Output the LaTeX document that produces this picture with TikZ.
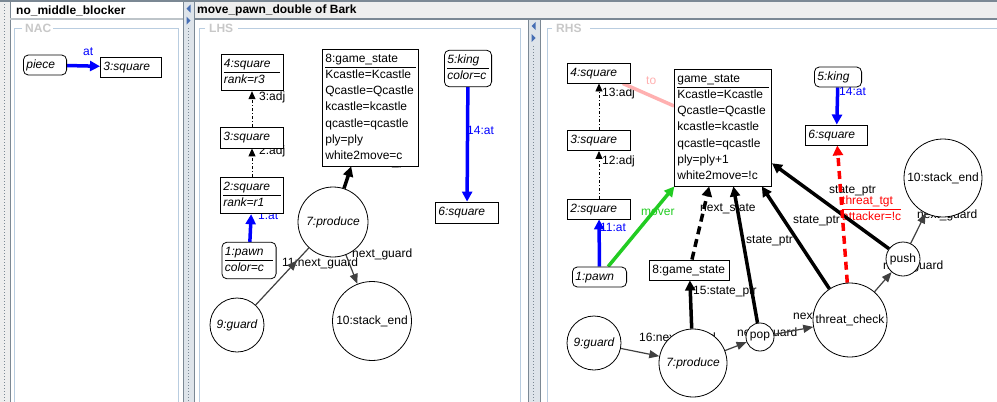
\documentclass[tikz,border=0pt]{standalone}
\usepackage{fontspec}
\setmainfont{Liberation Sans}
\usetikzlibrary{arrows.meta,decorations.markings}
\pgfdeclarelayer{chrome}
\pgfdeclarelayer{edges}
\pgfsetlayers{chrome,edges,main}
\definecolor{slate}{RGB}{123,136,148}
\definecolor{barbg}{RGB}{238,238,238}
\definecolor{frameblue}{RGB}{185,205,224}
\definecolor{framelbl}{RGB}{200,200,200}
\definecolor{splitbg}{RGB}{222,228,234}
\definecolor{splitarrow}{RGB}{70,110,180}
\definecolor{mvgreen}{RGB}{34,204,34}
\definecolor{topink}{RGB}{255,176,176}
\newcommand{\objrows}[2]{\begin{tabular}{@{}p{#1}@{}}#2\end{tabular}}
\renewcommand{\arraystretch}{1.15}
\begin{document}
\begin{tikzpicture}[x=1pt,y=-1pt,
  every node/.style={font=\fontsize{12}{14}\selectfont},
  objbox/.style={draw,fill=white,line width=0.8pt,inner xsep=3pt,inner ysep=2pt,minimum height=20pt},
  objround/.style={objbox,rounded corners=5pt},
  objcirc/.style={circle,draw,fill=white,line width=0.8pt,inner sep=0pt},
  itcirc/.style={objcirc,font=\fontsize{12}{14}\selectfont\itshape},
  lbl/.style={anchor=west,inner sep=0pt,text height=9pt,text depth=3pt},
  paneltitle/.style={anchor=west,inner sep=0pt,font=\fontsize{12}{14}\selectfont\bfseries},
  framelabel/.style={anchor=west,inner sep=0pt,text=framelbl,font=\fontsize{12}{14}\selectfont\bfseries},
  thinedge/.style={draw=black!75,line width=1.2pt,-{Triangle[length=10pt,width=8pt]}},
  stateedge/.style={draw=black,line width=3.5pt,-{Triangle[length=10pt,width=10pt]}},
  atedge/.style={draw=blue,line width=3.5pt,-{Triangle[length=10pt,width=10pt]}},
  adjedge/.style={draw=black,line width=0.9pt,dash pattern=on 3pt off 2pt on 1pt off 2pt,-{Triangle[length=8pt,width=7pt]}},
  ]
\useasboundingbox (0,0) rectangle (997,402);
\begin{pgfonlayer}{chrome}
\fill[white] (0,0) rectangle (997,402);
\fill[barbg] (195,2) rectangle (997,18);
\fill[slate] (0,0) rectangle (997,2);
\fill[slate] (195,18) rectangle (997,20);
\fill[barbg] (0,2) rectangle (10,402);
\draw[slate,dotted,line width=1pt] (4,4) -- (4,402);
\draw[slate] (10,2) -- (10,402);
\fill[slate!50] (10,18) rectangle (183,20);
\fill[splitbg] (183,2) rectangle (194,402);
\draw[slate] (183,2) -- (183,402);
\draw[slate] (194.5,2) -- (194.5,402);
\draw[slate,dotted,line width=1pt] (188.5,28) -- (188.5,402);
\fill[splitarrow] (190.5,4.5) -- (186.5,8.5) -- (190.5,12.5) -- cycle;
\fill[splitarrow] (186.5,16.5) -- (190.5,20.5) -- (186.5,24.5) -- cycle;
\fill[splitbg] (528,20) rectangle (540,402);
\draw[slate] (528,20) -- (528,402);
\draw[slate] (540,20) -- (540,402);
\draw[slate,dotted,line width=1pt] (533.5,46) -- (533.5,402);
\fill[splitarrow] (535.5,22) -- (531.5,26) -- (535.5,30) -- cycle;
\fill[splitarrow] (531.5,34) -- (535.5,38) -- (531.5,42) -- cycle;
\draw[frameblue] (22,28) -| (14,402);
\draw[frameblue] (53,28) -| (178,402);
\draw[frameblue] (205,28) -| (199,402);
\draw[frameblue] (238,28) -| (520,402);
\draw[frameblue] (552,28) -| (547,402);
\draw[frameblue] (590,28) -- (997,28);
\end{pgfonlayer}
\node[paneltitle] (ttlnac) at (16,10.5) {no\_middle\_blocker};
\node[paneltitle] (ttlrule) at (197,10.5) {move\_pawn\_double of Bark};
\node[framelabel] (fnac) at (25,28) {NAC};
\node[framelabel] (flhs) at (209,28) {LHS};
\node[framelabel] (frhs) at (556,28) {RHS};
\node[objround] (piece) at (45,65) {\objrows{37.2pt}{\textit{piece}}};
\node[objbox] (nsq3) at (131,67) {\objrows{55.2pt}{\textit{3:square}}};
\node[objbox] (sq4) at (252,72.5) {\objrows{56.2pt}{\textit{4:square}\\\hline\textit{rank=r3}}};
\node[objbox,minimum height=21pt] (sq3) at (252,137.5) {\objrows{57.2pt}{\textit{3:square}}};
\node[objbox] (sq2) at (252,195.5) {\objrows{57.2pt}{\textit{2:square}\\\hline\textit{rank=r1}}};
\node[objround] (pawn1) at (249,260.5) {\objrows{48.2pt}{\textit{1:pawn}\\\hline\textit{color=c}}};
\node[objbox] (gs8) at (370.5,107.5) {\objrows{90.2pt}{8:game\_state\\\hline Kcastle=Kcastle\\Qcastle=Qcastle\\kcastle=kcastle\\qcastle=qcastle\\ply=ply\\white2move=c}};
\node[objround] (king5) at (468,68.5) {\objrows{41.2pt}{\textit{5:king}\\\hline\textit{color=c}}};
\node[objbox,minimum height=21pt] (sq6) at (467,212.5) {\objrows{57.2pt}{\textit{6:square}}};
\node[itcirc,minimum size=70pt] (prod7) at (333,222) {7:produce};
\node[itcirc,minimum size=54pt] (guard9) at (237,325) {9:guard};
\node[objcirc,minimum size=79pt] (send10) at (372,321) {10:stack\_end};
\node[objbox] (rsq4) at (599,73) {\objrows{57.2pt}{\textit{4:square}}};
\node[objbox] (rsq3) at (599,140.5) {\objrows{57.2pt}{\textit{3:square}}};
\node[objbox] (rsq2) at (599,209) {\objrows{57.2pt}{\textit{2:square}}};
\node[objround] (rpawn1) at (599.5,277) {\objrows{48.2pt}{\textit{1:pawn}}};
\node[objbox] (rgs) at (723,127.5) {\objrows{91.2pt}{game\_state\\\hline Kcastle=Kcastle\\Qcastle=Qcastle\\kcastle=kcastle\\qcastle=qcastle\\ply=ply+1\\white2move=!c}};
\node[objround] (rking5) at (838,77) {\objrows{41.2pt}{\textit{5:king}}};
\node[objbox] (rsq6) at (836.5,135) {\objrows{56.2pt}{\textit{6:square}}};
\node[objbox] (rgs8) at (689.5,270) {\objrows{74.2pt}{8:game\_state}};
\node[objcirc,minimum size=78pt] (rsend10) at (943,178) {10:stack\_end};
\node[objcirc,minimum size=34pt] (push) at (903,259) {push};
\node[objcirc,minimum size=74pt] (tcheck) at (850,320) {threat\_check};
\node[objcirc,minimum size=28pt] (pop) at (760,337) {pop};
\node[itcirc,minimum size=68pt] (rprod7) at (693,363) {7:produce};
\node[itcirc,minimum size=54pt] (rguard9) at (594,343) {9:guard};
\begin{pgfonlayer}{edges}
\node[lbl,text=blue] (lat) at (83,52) {at};
\node[lbl] (ladj3) at (259,97) {3:adj};
\node[lbl] (ladj2) at (259,151) {2:adj};
\node[lbl,text=blue] (lat1) at (258,216) {1:at};
\node[lbl] (lsp5) at (356,162) {5:state\_ptr};
\node[lbl] (lng11) at (282,263) {11:next\_guard};
\node[lbl] (lng12) at (352,254) {next\_guard};
\node[lbl,text=blue] (lat14) at (467,131) {14:at};
\node[lbl,text=topink] (lto) at (646,81) {to};
\node[lbl] (radj13) at (602,93) {13:adj};
\node[lbl] (radj12) at (602,161) {12:adj};
\node[lbl,text=blue] (rat11) at (600,228) {11:at};
\node[lbl,text=mvgreen] (rmover) at (641,212) {mover};
\node[lbl] (rnext) at (700,208) {next\_state};
\node[lbl] (rsppop) at (746,240) {state\_ptr};
\node[lbl] (rsptc) at (793,220) {state\_ptr};
\node[lbl] (rsppush) at (829,190) {state\_ptr};
\node[anchor=north west,inner sep=0pt,text=red] (rtgt) at (842,193) {\begin{tabular}{@{}l@{}}threat\_tgt\\\hline attacker=!c\end{tabular}};
\node[lbl,text=blue] (rat14) at (839,92) {14:at};
\node[lbl] (rngpush) at (917,215) {next\_guard};
\node[lbl] (rngtc) at (883,266) {next\_guard};
\node[lbl] (rngpop) at (793,316) {next\_guard};
\node[lbl] (rngprod) at (737,333) {next\_guard};
\node[lbl] (rng16) at (639,338) {16:next\_guard};
\node[lbl] (rsp15) at (693,291) {15:state\_ptr};
\draw[atedge] (piece) -- (nsq3);
\draw[adjedge] (sq3) -- (sq4);
\draw[adjedge] (sq2) -- (sq3);
\draw[atedge] (pawn1) -- (sq2);
\draw[stateedge] (prod7) -- (gs8);
\draw[atedge] (king5) -- (sq6);
\draw[draw=black!75,line width=1.2pt,postaction={decorate},decoration={markings,mark=at position 0.78 with {\arrow{Triangle[length=10pt,width=8pt]}}}] (guard9) -- (prod7);
\draw[thinedge] (prod7) -- (send10);
\draw[draw=topink,line width=3.5pt] (rgs) -- (rsq4);
\draw[adjedge] (rsq3) -- (rsq4);
\draw[adjedge] (rsq2) -- (rsq3);
\draw[atedge] (rpawn1) -- (rsq2);
\draw[draw=mvgreen,line width=3.5pt,-{Triangle[length=10pt,width=10pt]}] (rpawn1) -- (rgs);
\draw[stateedge,dash pattern=on 8pt off 5pt] (rgs8) -- (rgs);
\draw[stateedge] (pop) -- (rgs);
\draw[stateedge] (tcheck) -- (rgs);
\draw[stateedge] (push) -- (rgs);
\draw[atedge] (rking5) -- (rsq6);
\draw[draw=red,line width=3.5pt,dash pattern=on 8pt off 5pt,-{Triangle[length=10pt,width=10pt]}] (tcheck) -- (rsq6);
\draw[thinedge] (push) -- (rsend10);
\draw[thinedge] (tcheck) -- (push);
\draw[thinedge] (pop) -- (tcheck);
\draw[thinedge] (rprod7) -- (pop);
\draw[thinedge] (rguard9) -- (rprod7);
\draw[stateedge] (rprod7) -- (rgs8);
\end{pgfonlayer}
\end{tikzpicture}
\end{document}
